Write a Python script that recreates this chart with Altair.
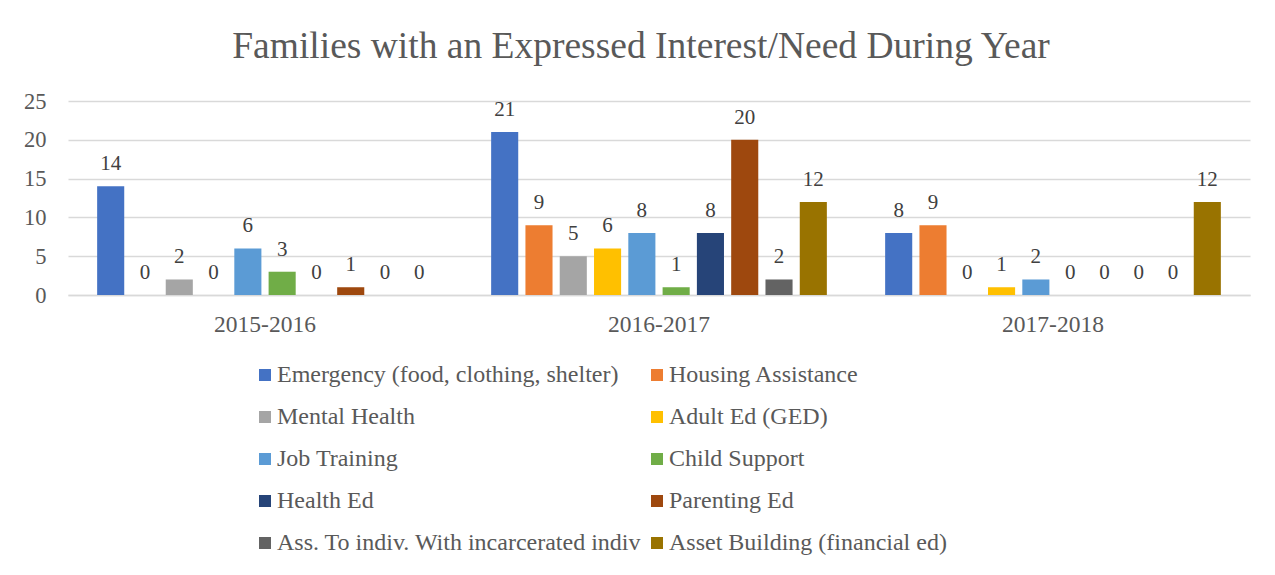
import altair as alt
import pandas as pd

years = ["2015-2016", "2016-2017", "2017-2018"]
series = [
    "Emergency (food, clothing, shelter)",
    "Housing Assistance",
    "Mental Health",
    "Adult Ed (GED)",
    "Job Training",
    "Child Support",
    "Health Ed",
    "Parenting Ed",
    "Ass. To indiv. With incarcerated indiv",
    "Asset Building (financial ed)",
]
colors = ["#4472C4", "#ED7D31", "#A5A5A5", "#FFC000", "#5B9BD5",
          "#70AD47", "#264478", "#9E480E", "#636363", "#997300"]

emergency = [14, 21, 8]
housing = [0, 9, 9]
mental = [2, 5, 0]
adult_ed = [0, 6, 1]
job_training = [6, 8, 2]
child_support = [3, 1, 0]
health_ed = [0, 8, 0]
parenting_ed = [1, 20, 0]
incarcerated = [0, 2, 0]
asset_building = [0, 12, 12]

all_values = [emergency, housing, mental, adult_ed, job_training,
              child_support, health_ed, parenting_ed, incarcerated, asset_building]

rows = []
for s, vals in zip(series, all_values):
    for y, v in zip(years, vals):
        rows.append({"year": y, "series": s, "value": v})
df = pd.DataFrame(rows)

FONT = "Liberation Serif"

base = alt.Chart(df).encode(
    x=alt.X("year:N", sort=years,
            scale=alt.Scale(paddingInner=0, paddingOuter=0),
            axis=alt.Axis(title=None, labelAngle=0, ticks=False, grid=False,
                          domainColor="#D9D9D9", domainWidth=1.5,
                          labelFont=FONT, labelFontSize=23.5, labelColor="#595959",
                          labelPadding=17)),
    xOffset=alt.XOffset("series:N", sort=series,
                        scale=alt.Scale(paddingInner=0.21, paddingOuter=0.85)),
    y=alt.Y("value:Q", scale=alt.Scale(domain=[0, 25]),
            axis=alt.Axis(title=None, values=[0, 5, 10, 15, 20, 25], ticks=False,
                          domain=False, gridColor="#D9D9D9", gridWidth=1.5,
                          labelFont=FONT, labelFontSize=22.5, labelColor="#595959",
                          labelPadding=22)),
)

bars = base.mark_bar().encode(
    color=alt.Color("series:N", sort=series,
                    scale=alt.Scale(domain=series, range=colors),
                    legend=alt.Legend(title=None, orient="none", legendX=185, legendY=262,
                                      padding=0,
                                      columns=2, direction="horizontal",
                                      symbolType="square", symbolSize=144,
                                      symbolStrokeWidth=0, labelOffset=0,
                                      labelFont=FONT, labelFontSize=24,
                                      labelColor="#595959", rowPadding=18,
                                      columnPadding=3, labelLimit=500))
)

labels = base.mark_text(baseline="alphabetic", dy=-16, font=FONT, fontSize=21,
                        color="#404040").encode(text="value:Q")

chart = (bars + labels).properties(
    width=1182, height=194,
    autosize=alt.AutoSizeParams(type="none"),
    padding={"left": 60, "top": 93, "right": 17, "bottom": 272},
    title=alt.Title("Families with an Expressed Interest/Need During Year",
                    font=FONT, fontSize=37.5, fontWeight="normal", color="#595959",
                    anchor="middle", baseline="alphabetic", offset=30, dx=-18, dy=35),
).configure_view(stroke=None)

chart.save("out.html", embed_options={"renderer": "svg", "actions": False})
